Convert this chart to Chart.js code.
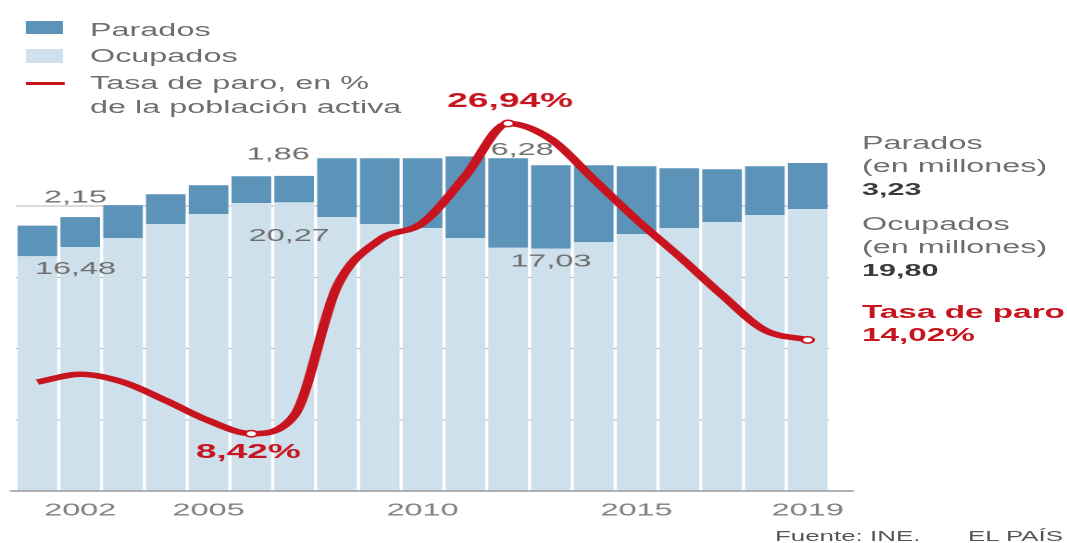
<!DOCTYPE html>
<html lang="es">
<head>
<meta charset="utf-8">
<script src="https://cdn.jsdelivr.net/npm/chart.js@4.4.1/dist/chart.umd.min.js"></script>
<style>
  :root { --s: 1.85; }
  html, body { margin: 0; padding: 0; background: #fff; overflow: hidden; }
  #wrap {
    position: absolute; left: 0; top: 0;
    width: calc(1067px / var(--s)); height: 543px;
    transform: scaleX(var(--s)); transform-origin: 0 0;
    font-family: "Liberation Sans", Arial, sans-serif; color: #6e6e6e;
  }
  .t { position: absolute; white-space: nowrap; font-size: 17.5px; line-height: 24px; }
  .r { line-height: 23px; left: calc(862px / var(--s)); }
  .sw { position: absolute; left: calc(26px / var(--s)); width: calc(37px / var(--s)); }
  b.dk { color: #3a3a3a; font-size: 16.5px; }
  .red { color: #c8141e; font-weight: bold; font-size: 18px; }
  .foot { position: absolute; top: 528px; font-size: 14px; line-height: 16px; color: #555; white-space: nowrap; }
  #box { position: absolute; left: 0; top: 91px; width: calc(860px / var(--s)); height: 452px; }
</style>
</head>
<body>
<div id="wrap">
  <div class="sw" style="top:21px;height:13px;background:#5b93b9"></div>
  <div class="sw" style="top:49px;height:14px;background:#cde0eb"></div>
  <div class="sw" style="top:81.5px;height:3px;left:calc(25px / var(--s));width:calc(40px / var(--s));background:#c8141e"></div>
  <div class="t" style="left:calc(90px / var(--s));top:17.5px">Parados</div>
  <div class="t" style="left:calc(90px / var(--s));top:43.5px">Ocupados</div>
  <div class="t" style="left:calc(90px / var(--s));top:70.5px">Tasa de paro, en %<br>de la población activa</div>

  <div class="t r" style="top:132px">Parados<br>(en millones)<br><b class="dk">3,23</b></div>
  <div class="t r" style="top:213px">Ocupados<br>(en millones)<br><b class="dk">19,80</b></div>
  <div class="t r red" style="top:301px">Tasa de paro<br>14,02%</div>

  <div class="foot" style="left:calc(775px / var(--s))">Fuente: INE.</div>
  <div class="foot" style="left:calc(968px / var(--s))">EL PAÍS</div>

  <div id="box"><canvas id="chart"></canvas></div>
</div>
<script>
const S = 1.85;

const years = ["2001", "2002", "2003", "2004", "2005", "2006", "2007", "2008", "2009", "2010",
  "2011", "2012", "2013", "2014", "2015", "2016", "2017", "2018", "2019"];
const shownYears = ["2002", "2005", "2010", "2015", "2019"];

// millones de personas
const ocupados = [16.48, 17.13, 17.76, 18.74, 19.44, 20.21, 20.27, 19.23, 18.74, 18.46,
  17.76, 17.08, 17.03, 17.48, 18.04, 18.46, 18.88, 19.37, 19.80];
const parados = [2.15, 2.10, 2.31, 2.10, 2.03, 1.89, 1.86, 4.13, 4.62, 4.90,
  5.74, 6.28, 5.84, 5.39, 4.76, 4.20, 3.71, 3.43, 3.23];

// % de la poblacion activa
const tasaParo = [11.5, 11.97, 11.5, 10.4, 9.2, 8.42, 9.5, 17.2, 20.0, 21.0,
  23.8, 26.94, 26.0, 23.6, 21.2, 19.0, 16.7, 14.6, 14.02];
const markedYears = ["2006", "2012", "2019"];

const grey = "#6e6e6e";
const red = "#c8141e";

// etiquetas sobre las barras: anclaje (indice, valor) + desplazamiento en px
const barNotes = [
  { text: "2,15", i: 0, v: ocupados[0] + parados[0], dx: 38, dy: -28 },
  { text: "16,48", i: 0, v: ocupados[0], dx: 38, dy: 13 },
  { text: "1,86", i: 6, v: ocupados[6] + parados[6], dx: -16, dy: -21 },
  { text: "20,27", i: 6, v: ocupados[6], dx: -5, dy: 34 },
  { text: "6,28", i: 11, v: ocupados[11] + parados[11], dx: 14, dy: -8 },
  { text: "17,03", i: 12, v: ocupados[12], dx: 0, dy: 13 }
];
const rateNotes = [
  { text: "26,94%", i: 11, v: tasaParo[11], dx: 2, dy: -22 },
  { text: "8,42%", i: 5, v: tasaParo[5], dx: -3, dy: 19 }
];

function drawNotes(chart, notes, scale, font, color) {
  const { ctx, scales } = chart;
  ctx.save();
  ctx.font = font;
  ctx.fillStyle = color;
  ctx.textAlign = "center";
  ctx.textBaseline = "middle";
  notes.forEach(n => {
    ctx.fillText(n.text, scales.x.getPixelForValue(n.i) + n.dx / S, scales[scale].getPixelForValue(n.v) + n.dy);
  });
  ctx.restore();
}

const notesPlugin = {
  id: "notes",
  beforeDatasetDraw(chart, args) {
    if (chart.data.datasets[args.index].type === "line") {
      drawNotes(chart, barNotes, "y", '17.5px "Liberation Sans"', grey);
    }
  },
  afterDatasetsDraw(chart) {
    const { ctx, scales } = chart;
    const y0 = scales.y.getPixelForValue(0);
    ctx.save();
    ctx.strokeStyle = "#9a9a9a";
    ctx.lineWidth = 1.5;
    ctx.beginPath();
    ctx.moveTo(10 / S, y0);
    ctx.lineTo(853 / S, y0);
    ctx.stroke();
    ctx.restore();
    drawNotes(chart, rateNotes, "y2", 'bold 20px "Liberation Sans"', red);
  }
};

new Chart(document.getElementById("chart"), {
  data: {
    labels: years,
    datasets: [
      {
        type: "line",
        label: "Tasa de paro",
        data: tasaParo,
        yAxisID: "y2",
        order: 0,
        borderColor: red,
        borderWidth: 5.5,
        cubicInterpolationMode: "monotone",
        pointRadius: years.map(y => markedYears.includes(y) ? 3.2 : 0),
        pointBackgroundColor: "#fff",
        pointBorderColor: red,
        pointBorderWidth: 1.5
      },
      {
        type: "bar",
        label: "Ocupados",
        data: ocupados,
        order: 1,
        backgroundColor: "#cde0eb",
        barPercentage: 0.926,
        categoryPercentage: 1
      },
      {
        type: "bar",
        label: "Parados",
        data: parados,
        order: 1,
        backgroundColor: "#5b93b9",
        barPercentage: 0.926,
        categoryPercentage: 1
      }
    ]
  },
  options: {
    responsive: true,
    maintainAspectRatio: false,
    animation: false,
    devicePixelRatio: 2,
    layout: { padding: { left: 16 / S, right: 23 / S, top: 0, bottom: 0 } },
    plugins: { legend: { display: false }, tooltip: { enabled: false } },
    scales: {
      x: {
        stacked: true,
        grid: { display: false, drawTicks: false },
        border: { display: false },
        ticks: {
          autoSkip: false,
          maxRotation: 0,
          padding: 9,
          color: "#808080",
          font: { family: "Liberation Sans", size: 17.5 },
          callback: (v, i) => shownYears.includes(years[i]) ? years[i] : ""
        },
        afterFit: s => { s.height = 52; }
      },
      y: {
        stacked: true,
        min: 0,
        max: 27.7,
        ticks: { display: false, stepSize: 5 },
        border: { display: false },
        grid: {
          drawTicks: false,
          lineWidth: 1,
          color: c => (c.tick.value > 0 && c.tick.value <= 20) ? "#b4b4b4" : "rgba(0,0,0,0)"
        },
        afterFit: s => { s.width = 0; }
      },
      y2: {
        display: false,
        position: "right",
        min: 5,
        max: 28.55
      }
    }
  },
  plugins: [notesPlugin]
});
</script>
</body>
</html>
